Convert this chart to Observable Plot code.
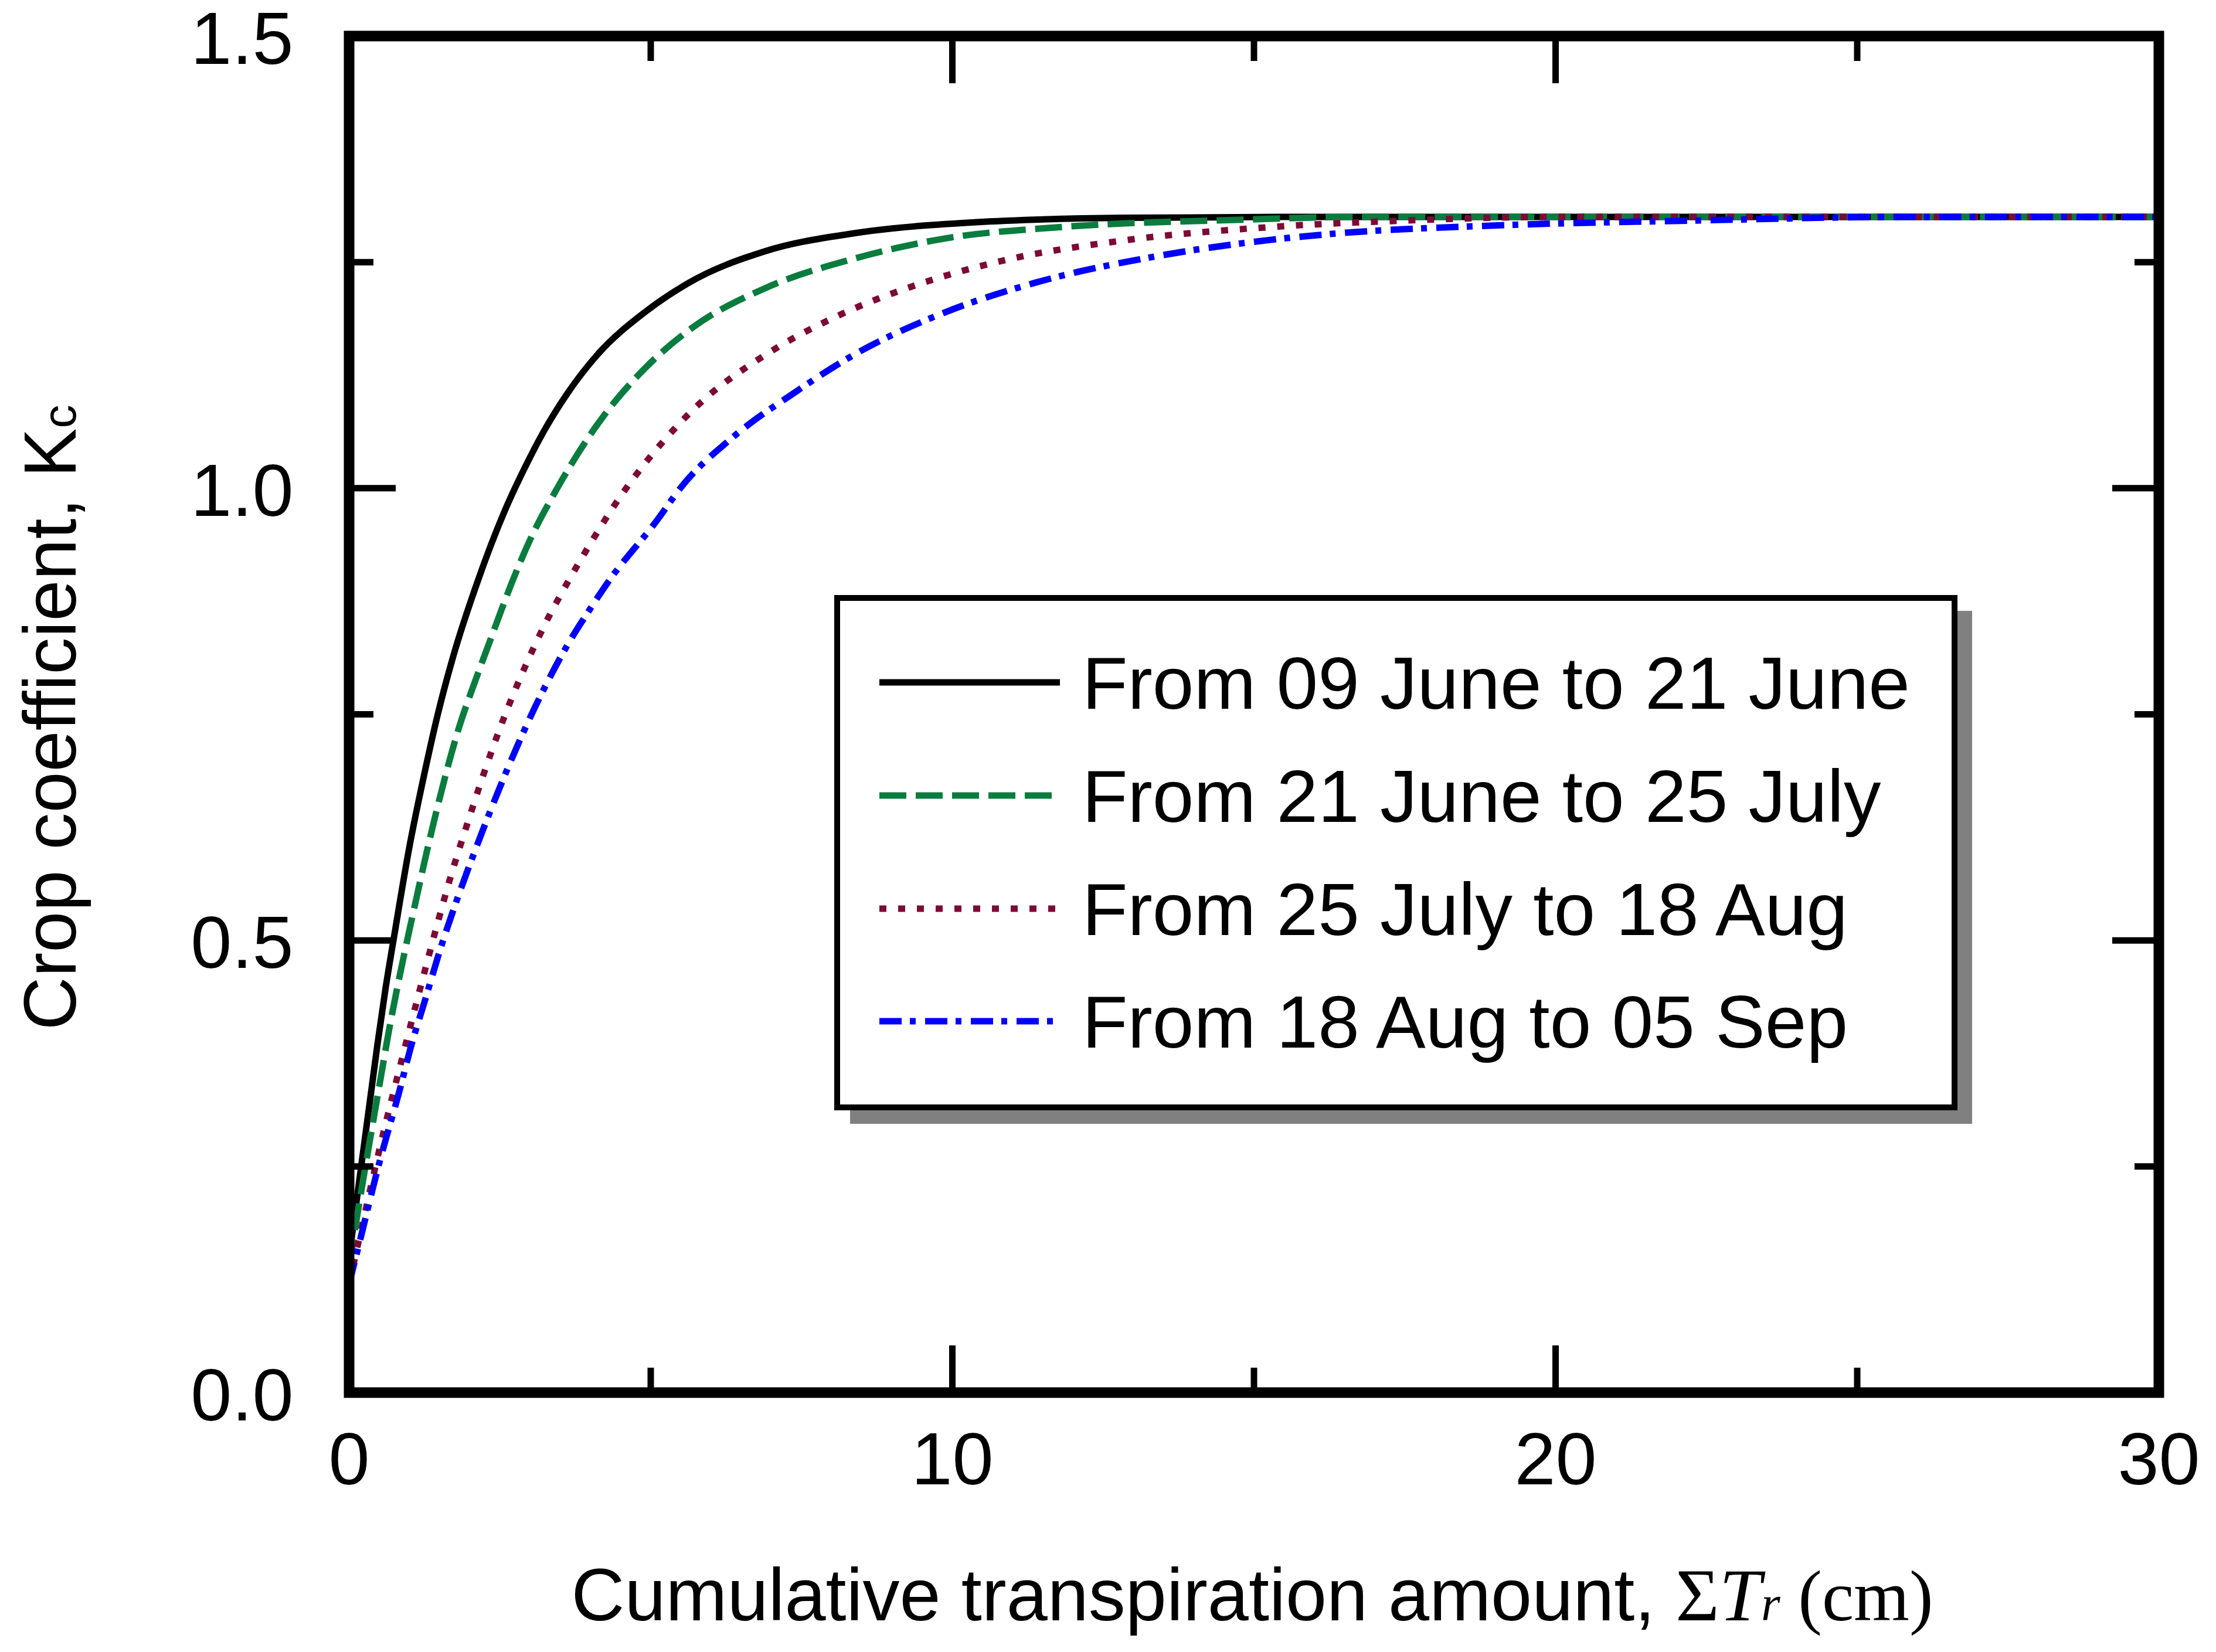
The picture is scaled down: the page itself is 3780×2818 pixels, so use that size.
<!DOCTYPE html>
<html>
<head>
<meta charset="utf-8">
<script src="https://cdn.jsdelivr.net/npm/d3@7"></script>
<script src="https://cdn.jsdelivr.net/npm/@observablehq/plot@0.6"></script>
<style>
  html, body { margin: 0; padding: 0; background: #ffffff; }
  svg { display: block; }
</style>
</head>
<body>
<div id="chart"></div>
<script>
// ---------- data ----------
const seriesLabels = [
  "From 09 June to 21 June",
  "From 21 June to 25 July",
  "From 25 July to 18 Aug",
  "From 18 Aug to 05 Sep"
];

const s1X  = [0, 0.1, 0.26, 0.36, 0.47, 0.60, 0.76, 0.99, 1.25, 1.47, 1.73, 2.12, 2.58, 2.93, 3.22, 3.62, 4.12, 4.91, 5.60, 6.89, 8.38, 10.36, 12.84, 15.5, 20, 30];
const s1Kc = [0.15, 0.20, 0.28, 0.33, 0.385, 0.445, 0.51, 0.60, 0.685, 0.75, 0.815, 0.895, 0.975, 1.025, 1.062, 1.105, 1.148, 1.195, 1.226, 1.262, 1.282, 1.294, 1.299, 1.30, 1.30, 1.30];

const s2X  = [0, 0.12, 0.386, 0.516, 0.646, 0.82, 0.972, 1.12, 1.25, 1.43, 1.64, 1.82, 2.08, 2.34, 2.70, 3.00, 3.45, 4.22, 4.91, 5.70, 6.89, 8.38, 9.86, 11.85, 14.83, 16.7, 30];
const s2Kc = [0.14, 0.19, 0.295, 0.345, 0.395, 0.455, 0.503, 0.548, 0.587, 0.638, 0.693, 0.735, 0.785, 0.832, 0.896, 0.943, 1.0, 1.080, 1.133, 1.178, 1.221, 1.254, 1.276, 1.289, 1.297, 1.30, 1.30];

const s3X  = [0, 0.15, 0.56, 0.842, 1.21, 1.47, 1.69, 1.95, 2.21, 2.56, 2.90, 3.25, 3.64, 3.92, 4.54, 5.21, 5.80, 6.89, 8.08, 9.37, 10.86, 12.84, 15.32, 17.5, 20, 30];
const s3Kc = [0.12, 0.165, 0.285, 0.36, 0.455, 0.52, 0.572, 0.627, 0.68, 0.745, 0.80, 0.85, 0.898, 0.93, 0.995, 1.052, 1.093, 1.147, 1.19, 1.224, 1.252, 1.274, 1.289, 1.296, 1.30, 1.30];

const s4X  = [0, 0.15, 0.516, 0.82, 1.04, 1.25, 1.51, 1.82, 2.08, 2.34, 2.64, 2.99, 3.29, 3.64, 3.99, 4.29, 5.11, 5.49, 6.39, 7.39, 8.38, 9.86, 11.36, 13.34, 15.32, 16.42, 18.78, 22.3, 25.8, 30];
const s4Kc = [0.12, 0.16, 0.258, 0.33, 0.386, 0.432, 0.49, 0.551, 0.598, 0.643, 0.692, 0.745, 0.786, 0.829, 0.866, 0.896, 0.965, 1.0, 1.058, 1.106, 1.148, 1.194, 1.227, 1.256, 1.275, 1.282, 1.29, 1.296, 1.30, 1.30];

const xTicksMajor = [0, 10, 20, 30];
const xTickLabels = ["0", "10", "20", "30"];
const xTicksMinor = [5, 15, 25];
const yTicksMajor = [0, 0.5, 1.0, 1.5];
const yTickLabels = ["0.0", "0.5", "1.0", "1.5"];
const yTicksMinor = [0.25, 0.75, 1.25];

const xTitleMain = "Cumulative transpiration amount, ";
const yTitleMain = "Crop coefficient, K";
const yTitleSub = "c";

// ---------- styles ----------
const style = {
  colors: ["#000000", "#0a7d3e", "#7d0a36", "#0000ff"],
  dashes: [null, "46,16", "12,20", "38,14,10,16"],
  lineWidth: 11
};

const seriesXs = [s1X, s2X, s3X, s4X];
const seriesKcs = [s1Kc, s2Kc, s3Kc, s4Kc];
const rows = seriesXs.flatMap((xs, s) => xs.map((x, i) => ({s, x, kc: seriesKcs[s][i]})));

const W = 3780, H = 2818;
const mL = 595, mR = 98, mT = 61, mB = 443;
const sans = "'Liberation Sans', Arial, Helvetica, sans-serif";
const serif = "'Liberation Serif', 'Times New Roman', serif";

const lineMarks = seriesLabels.map((_, s) =>
  Plot.line(rows.filter(d => d.s === s), {
    x: "x", y: "kc",
    stroke: style.colors[s],
    strokeWidth: style.lineWidth,
    strokeDasharray: style.dashes[s] ?? undefined,
    strokeLinecap: "butt",
    strokeLinejoin: "round",
    curve: "monotone-x"
  })
);

const tickW = 11, majorLen = 80, minorLen = 42;

const plot = Plot.plot({
  width: W, height: H,
  marginLeft: mL, marginRight: mR, marginTop: mT, marginBottom: mB,
  style: {fontFamily: sans, fontSize: "126px", color: "#000", background: "#fff", overflow: "visible"},
  x: {domain: [0, 30]},
  y: {domain: [0, 1.5]},
  marks: [
    ...lineMarks,
    // inward ticks on all four sides
    Plot.axisX({anchor: "bottom", ticks: xTicksMajor, tickSize: -majorLen, strokeWidth: tickW, text: null, label: null}),
    Plot.axisX({anchor: "bottom", ticks: xTicksMinor, tickSize: -minorLen, strokeWidth: tickW, text: null, label: null}),
    Plot.axisX({anchor: "top", ticks: xTicksMajor, tickSize: -majorLen, strokeWidth: tickW, text: null, label: null}),
    Plot.axisX({anchor: "top", ticks: xTicksMinor, tickSize: -minorLen, strokeWidth: tickW, text: null, label: null}),
    Plot.axisY({anchor: "left", ticks: yTicksMajor, tickSize: -majorLen, strokeWidth: tickW, text: null, label: null}),
    Plot.axisY({anchor: "left", ticks: yTicksMinor, tickSize: -minorLen, strokeWidth: tickW, text: null, label: null}),
    Plot.axisY({anchor: "right", ticks: yTicksMajor, tickSize: -majorLen, strokeWidth: tickW, text: null, label: null}),
    Plot.axisY({anchor: "right", ticks: yTicksMinor, tickSize: -minorLen, strokeWidth: tickW, text: null, label: null}),
    // tick labels
    Plot.axisX({anchor: "bottom", ticks: xTicksMajor, tickSize: 0, tickPadding: 67, fontSize: 126,
      tickFormat: d => xTickLabels[xTicksMajor.indexOf(d)], label: null}),
    Plot.axisY({anchor: "left", ticks: yTicksMajor, tickSize: 0, tickPadding: 95, fontSize: 126, dy: 7,
      tickFormat: d => yTickLabels[yTicksMajor.indexOf(d)], label: null}),
    Plot.frame({stroke: "#000", strokeWidth: 18})
  ]
});

const svg = d3.select(plot);

// x-axis title
const xt = svg.append("text")
  .attr("x", 2136).attr("y", 2764)
  .attr("text-anchor", "middle")
  .attr("font-family", sans).attr("font-size", 126).attr("fill", "#000");
xt.append("tspan").text(xTitleMain);
xt.append("tspan").attr("font-family", serif).attr("font-size", 128).text("Σ");
xt.append("tspan").attr("font-family", serif).attr("font-style", "italic").attr("font-size", 128).text("T");
xt.append("tspan").attr("font-family", serif).attr("font-style", "italic").attr("font-size", 84).text("r");
xt.append("tspan").attr("font-family", serif).attr("font-size", 122).text(" (cm)");

// y-axis title
const yt = svg.append("text")
  .attr("transform", "translate(129,1224) rotate(-90)")
  .attr("text-anchor", "middle")
  .attr("font-family", sans).attr("font-size", 126).attr("fill", "#000");
yt.append("tspan").text(yTitleMain);
yt.append("tspan").attr("font-size", 80).text(yTitleSub);

// legend
const lg = svg.append("g").attr("text-anchor", "start");
const bx = 1428, by = 1020, bw = 1906, bh = 869;
lg.append("rect").attr("x", bx + 22).attr("y", by + 22).attr("width", bw + 8).attr("height", bh + 6).attr("fill", "#808080");
lg.append("rect").attr("x", bx).attr("y", by).attr("width", bw).attr("height", bh)
  .attr("fill", "#fff").attr("stroke", "#000").attr("stroke-width", 10);
const rowY = [1164, 1357, 1550, 1742];
seriesLabels.forEach((lab, s) => {
  lg.append("line")
    .attr("x1", 1500).attr("x2", 1808).attr("y1", rowY[s]).attr("y2", rowY[s])
    .attr("stroke", style.colors[s]).attr("stroke-width", style.lineWidth)
    .attr("stroke-dasharray", style.dashes[s])
    .attr("stroke-linecap", "butt");
  lg.append("text")
    .attr("x", 1846).attr("y", rowY[s] + 45)
    .attr("text-anchor", "start")
    .attr("font-family", sans).attr("font-size", 127).attr("fill", "#000")
    .text(lab);
});

document.getElementById("chart").appendChild(plot);
</script>
</body>
</html>
